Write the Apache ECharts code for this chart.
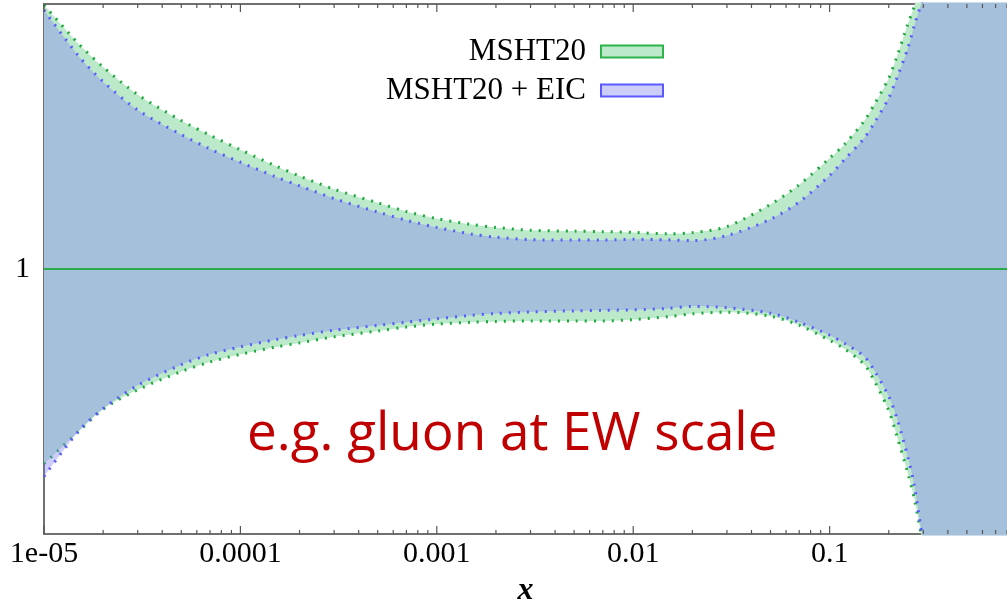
<!DOCTYPE html>
<html><head><meta charset="utf-8">
<script src="https://cdn.jsdelivr.net/npm/echarts@6/dist/echarts.min.js"></script>
<style>html,body{margin:0;padding:0;background:#fff}#c{width:1007px;height:604px}</style>
</head><body><div id="c"></div>
<script>
// x sample points (momentum fraction)
const xs = [1e-5,1.5e-5,2e-5,3e-5,5e-5,7e-5,1e-4,1.5e-4,2e-4,3e-4,5e-4,7e-4,1e-3,1.5e-3,2e-3,3e-3,5e-3,7e-3,1e-2,1.5e-2,2e-2,3e-2,5e-2,7e-2,0.1,0.12,0.15,0.17,0.2,0.22,0.25,0.27,0.3,0.4,0.5,0.6,0.8];
// MSHT20 band (ratio to central)
const mshtUpper = [1.0996,1.0850,1.0762,1.0658,1.0560,1.0505,1.0450,1.0390,1.0351,1.0301,1.0250,1.0217,1.0190,1.0168,1.0157,1.0146,1.0143,1.0141,1.0138,1.0133,1.0137,1.0160,1.0244,1.0318,1.0418,1.0473,1.0559,1.0625,1.0720,1.0801,1.0924,1.0993,1.1128,1.15,1.18,1.21,1.26];
const mshtLower = [0.9265,0.9387,0.9471,0.9544,0.9613,0.9649,0.9678,0.9705,0.9721,0.9744,0.9766,0.9781,0.9792,0.9799,0.9802,0.9804,0.9804,0.9804,0.9809,0.9820,0.9831,0.9837,0.9822,0.9788,0.9731,0.9697,0.9640,0.9574,0.9466,0.9370,0.9230,0.9132,0.8957,0.855,0.82,0.79,0.74];
// MSHT20 + EIC band
const eicUpper = [1.0977,1.0804,1.0707,1.0600,1.0507,1.0453,1.0403,1.0349,1.0314,1.0266,1.0215,1.0184,1.0157,1.0132,1.0120,1.0111,1.0109,1.0109,1.0112,1.0110,1.0107,1.0126,1.0188,1.0253,1.0353,1.0416,1.0494,1.0555,1.0646,1.0721,1.0832,1.0920,1.1028,1.14,1.17,1.20,1.25];
const eicLower = [0.9217,0.9388,0.9473,0.9561,0.9639,0.9678,0.9706,0.9733,0.9749,0.9769,0.9787,0.9799,0.9812,0.9825,0.9832,0.9838,0.9842,0.9844,0.9846,0.9851,0.9859,0.9854,0.9833,0.9799,0.9750,0.9718,0.9670,0.9613,0.9519,0.9437,0.9291,0.9182,0.8975,0.86,0.83,0.80,0.75];
// central value (ratio = 1)
const central = [1,1,1,1,1,1,1,1,1,1,1,1,1,1,1,1,1,1,1,1,1,1,1,1,1,1,1,1,1,1,1,1,1,1,1,1,1];
// axis ticks
const xTickValues = [1e-5,1e-4,1e-3,1e-2,1e-1];
const xTickLabels = ['1e-05','0.0001','0.001','0.01','0.1'];
const minorMultipliers = [2,3,4,5,6,7,8,9];
const yTickValues = [1];
const yTickLabels = ['1'];
const xMin = 1e-5, xMax = 0.8, yMin = 0.9, yMax = 1.1;

const minorTicks = [];
xTickValues.forEach(d => minorMultipliers.forEach(m => { const v = d*m; if (v <= xMax) minorTicks.push(v); }));

// value first, x second, so that stacking happens on the y (value) dimension
const pair = (arr) => xs.map((x,i) => [arr[i], x]);
const diff = (hi, lo) => xs.map((x,i) => [hi[i] - lo[i], x]);
const enc = {x: 1, y: 0};

const GREEN = '#1ea83e', BLUE = '#5a5aff';
const dotted = (c) => ({color: c, width: 3, type: [2, 7], cap: 'butt'});
const serif = 'Liberation Serif';

function tickSeries(values, len) {
  return {
    type: 'custom', silent: true, clip: false, z: 10,
    data: values.map(v => [v, yMin]),
    encode: {x: 0, y: 1},
    renderItem: function (params, api) {
      const x = api.value(0);
      const b = api.coord([x, yMin]);
      const t = api.coord([x, yMax]);
      const st = {stroke: '#555', lineWidth: 1.2};
      return {type: 'group', children: [
        {type: 'line', shape: {x1: b[0], y1: b[1], x2: b[0], y2: b[1] - len}, style: st},
        {type: 'line', shape: {x1: t[0], y1: t[1], x2: t[0], y2: t[1] + len}, style: st}
      ]};
    }
  };
}

const chart = echarts.init(document.getElementById('c'), null, {renderer: 'canvas'});
const axisLine = {show: true, lineStyle: {color: '#707070', width: 2}};
chart.setOption({
  animation: false,
  backgroundColor: '#fff',
  grid: {left: 44, right: 0, top: 4, bottom: 70, containLabel: false, outerBoundsMode: 'none'},
  legend: {
    orient: 'vertical', align: 'right', right: 338, top: 31,
    itemWidth: 62, itemHeight: 12, itemGap: 8, selectedMode: false,
    textStyle: {fontFamily: serif, fontSize: 31, color: '#000', lineHeight: 30, padding: [0, 10, 0, 0]},
    data: [
      {name: 'MSHT20', icon: 'rect', itemStyle: {color: '#bde9cb', borderColor: '#2db34a', borderWidth: 2}},
      {name: 'MSHT20 + EIC', icon: 'rect', itemStyle: {color: '#cdcdfa', borderColor: BLUE, borderWidth: 2}}
    ]
  },
  xAxis: [{
    type: 'log', logBase: 10, min: xMin, max: xMax, position: 'bottom',
    axisLine: axisLine, axisTick: {show: false}, splitLine: {show: false},
    axisLabel: {
      fontFamily: serif, fontSize: 30, color: '#000', margin: 5, showMaxLabel: false,
      formatter: function (v) {
        const i = xTickValues.findIndex(t => Math.abs(Math.log10(t) - Math.log10(v)) < 1e-6);
        return i >= 0 ? xTickLabels[i] : '';
      }
    },
    name: 'x', nameLocation: 'middle', nameGap: 41,
    nameTextStyle: {fontFamily: serif, fontSize: 32, fontStyle: 'italic', fontWeight: 'bold', color: '#000'}
  }, {
    type: 'log', logBase: 10, min: xMin, max: xMax, position: 'top',
    axisLine: axisLine, axisTick: {show: false}, axisLabel: {show: false}, splitLine: {show: false}
  }],
  yAxis: {
    type: 'value', min: yMin, max: yMax, interval: 0.1,
    axisLine: axisLine, axisTick: {show: false}, splitLine: {show: false},
    axisLabel: {
      fontFamily: serif, fontSize: 30, color: '#000', margin: 14,
      formatter: function (v) {
        const i = yTickValues.findIndex(t => Math.abs(t - v) < 1e-6);
        return i >= 0 ? yTickLabels[i] : '';
      }
    }
  },
  series: [
    {name: 'msht_lo', type: 'line', stack: 'msht', data: pair(mshtLower), encode: enc, symbol: 'none', smooth: 0.3,
     lineStyle: dotted(GREEN), z: 2},
    {name: 'MSHT20', type: 'line', stack: 'msht', data: diff(mshtUpper, mshtLower), encode: enc, symbol: 'none', smooth: 0.3,
     lineStyle: dotted(GREEN), areaStyle: {color: '#bde9cb', opacity: 1}, z: 2},
    {name: 'eic_lo', type: 'line', stack: 'eic', data: pair(eicLower), encode: enc, symbol: 'none', smooth: 0.3,
     lineStyle: dotted(BLUE), z: 3},
    {name: 'MSHT20 + EIC', type: 'line', stack: 'eic', data: diff(eicUpper, eicLower), encode: enc, symbol: 'none', smooth: 0.3,
     lineStyle: dotted(BLUE), areaStyle: {color: 'rgba(130,130,242,0.4)', opacity: 1}, z: 3},
    {name: 'central', type: 'line', data: pair(central), encode: enc, symbol: 'none',
     lineStyle: {color: '#2aaa48', width: 2}, z: 5},
    tickSeries(xTickValues, 8),
    tickSeries(minorTicks, 4)
  ],
  graphic: [{
    type: 'text', left: 247, top: 408, z: 20,
    style: {text: 'e.g. gluon at EW scale', font: '53px "Open Sans"', fill: '#c00000'}
  }]
});
</script></body></html>
